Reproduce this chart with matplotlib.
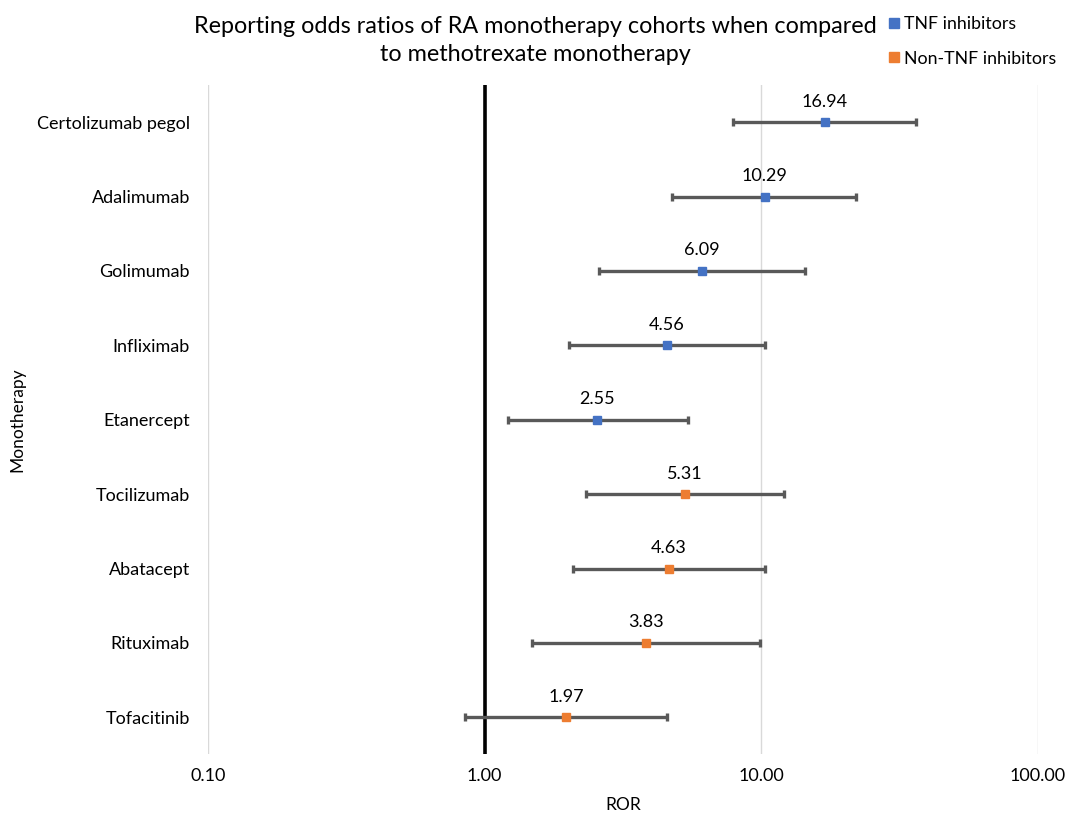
import matplotlib
matplotlib.use("Agg")
import matplotlib.pyplot as plt
from matplotlib.lines import Line2D

plt.rcParams['font.family'] = ['Lato', 'DejaVu Sans']

drugs = ["Certolizumab pegol", "Adalimumab", "Golimumab", "Infliximab", "Etanercept",
         "Tocilizumab", "Abatacept", "Rituximab", "Tofacitinib"]
ror = [16.94, 10.29, 6.09, 4.56, 2.55, 5.31, 4.63, 3.83, 1.97]
ci_low = [7.92, 4.77, 2.58, 2.01, 1.21, 2.32, 2.08, 1.48, 0.85]
ci_high = [36.3, 22.0, 14.4, 10.3, 5.41, 12.1, 10.3, 9.92, 4.58]
group = ["TNF", "TNF", "TNF", "TNF", "TNF", "Non-TNF", "Non-TNF", "Non-TNF", "Non-TNF"]
group_colors = {"TNF": "#4472C4", "Non-TNF": "#ED7D31"}
xticks = [0.1, 1, 10, 100]

fig = plt.figure(figsize=(10.77, 8.17), dpi=100)
ax = fig.add_axes([0.1931, 0.0765, 0.7707, 0.8195])

ax.set_xscale("log")
ax.set_xlim(0.1, 100)
ax.set_ylim(len(drugs) - 0.5, -0.5)

for x in xticks:
    ax.axvline(x, color="#d9d9d9", lw=1, zorder=0)
ax.axvline(1, color="black", lw=2.6, zorder=1)

for i, name in enumerate(drugs):
    ax.errorbar(ror[i], i, xerr=[[ror[i] - ci_low[i]], [ci_high[i] - ror[i]]],
                fmt="none", ecolor="#595959", elinewidth=2.4, capsize=3, capthick=2.4, zorder=2)
    ax.plot(ror[i], i, marker="s", ms=6, color=group_colors[group[i]], ls="none", zorder=3)
    ax.annotate(f"{ror[i]:.2f}", (ror[i], i), xytext=(0, 9), textcoords="offset points",
                ha="center", va="bottom", fontsize=13)

ax.set_yticks(range(len(drugs)))
ax.set_yticklabels(drugs, fontsize=13)
ax.set_xticks(xticks)
ax.set_xticklabels([f"{x:.2f}" for x in xticks], fontsize=13)
ax.minorticks_off()
ax.tick_params(length=0, pad=10)
ax.tick_params(axis="y", pad=13)
for s in ax.spines.values():
    s.set_visible(False)

ax.set_xlabel("ROR", fontsize=12.5, labelpad=10)
ax.xaxis.set_label_coords(0.5, -0.063)
ax.set_ylabel("Monotherapy", fontsize=12.5)
ax.yaxis.set_label_coords(-0.22, 0.5)

fig.text(0.497, 0.950, "Reporting odds ratios of RA monotherapy cohorts when compared\nto methotrexate monotherapy",
         ha="center", va="center", fontsize=16.8, linespacing=1.4)

handles = [Line2D([], [], marker="s", ls="none", color=group_colors["TNF"], ms=7),
           Line2D([], [], marker="s", ls="none", color=group_colors["Non-TNF"], ms=7)]
fig.legend(handles, ["TNF inhibitors", "Non-TNF inhibitors"], loc="upper left",
           bbox_to_anchor=(0.81, 1.0), frameon=False, fontsize=12.8,
           handlelength=0.6, handletextpad=0.3, labelspacing=1.05)

fig.savefig("out.png", dpi=100)
